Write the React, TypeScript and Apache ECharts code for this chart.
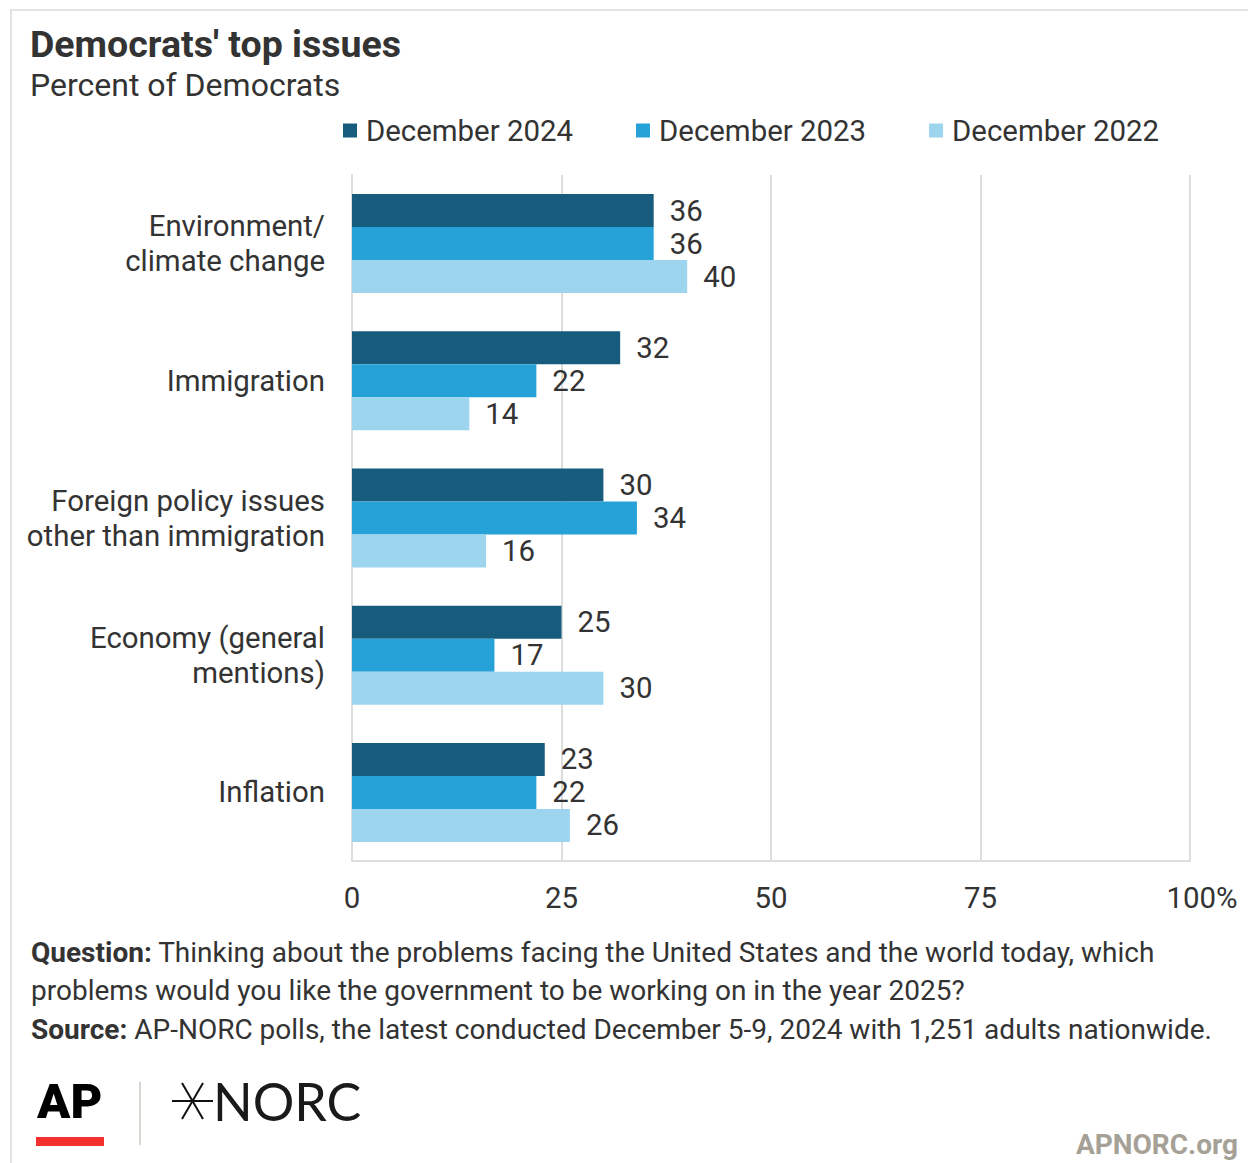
import React, { useEffect, useRef } from "react";
import * as echarts from "echarts";

const categories = [
  "Environment/\nclimate change",
  "Immigration",
  "Foreign policy issues\nother than immigration",
  "Economy (general\nmentions)",
  "Inflation",
];
const seriesNames = ["December 2024", "December 2023", "December 2022"];
const dec2024 = [36, 32, 30, 25, 23];
const dec2023 = [36, 22, 34, 17, 22];
const dec2022 = [40, 14, 16, 30, 26];
const xTicks = [0, 25, 50, 75, 100];
const colors = ["#175c7c", "#27a2d9", "#9dd5ef"];

const FONT = "Roboto, 'Noto Sans', sans-serif";
const TXT = "#333333";
const FS = 29.4;

export default function App() {
  const ref = useRef<HTMLDivElement>(null);
  useEffect(() => {
    document.body.style.margin = "0";
    const chart = echarts.init(ref.current!, null, { renderer: "svg" });
    const values = [dec2024, dec2023, dec2022];
    const option: any = {
      animation: false,
      backgroundColor: "#ffffff",
      textStyle: { fontFamily: FONT },
      title: {
        text: "Democrats' top issues",
        subtext: "Percent of Democrats",
        left: 25,
        top: 20,
        itemGap: 6,
        textStyle: { fontFamily: FONT, fontSize: 37.5, fontWeight: "bold", color: TXT },
        subtextStyle: { fontFamily: FONT, fontSize: 32, color: TXT },
      },
      legend: {
        data: seriesNames,
        left: 338,
        top: 111,
        icon: "rect",
        itemWidth: 14,
        itemHeight: 14,
        itemGap: 63,
        textStyle: { fontFamily: FONT, fontSize: FS, color: TXT, padding: [0, 0, 0, 4] },
      },
      grid: { left: 352, right: 58, top: 175, bottom: 302, containLabel: false },
      xAxis: {
        type: "value",
        min: 0,
        max: 100,
        interval: 25,
        axisLine: { show: true, lineStyle: { color: "#dddddd", width: 2 } },
        axisTick: { show: false },
        splitLine: { show: true, lineStyle: { color: "#dddddd", width: 2 } },
        axisLabel: {
          margin: 22,
          fontFamily: FONT,
          fontSize: FS,
          color: TXT,
          formatter: (v: number) => (v === xTicks[xTicks.length - 1] ? "{p|" + v + "%}" : String(v)),
          rich: { p: { fontFamily: FONT, fontSize: FS, color: TXT, padding: [0, 0, 0, 24] } },
        },
      },
      yAxis: {
        type: "category",
        data: categories,
        inverse: true,
        axisLine: { show: true, lineStyle: { color: "#dddddd", width: 2 } },
        axisTick: { show: false },
        splitLine: { show: false },
        axisLabel: { margin: 27, fontFamily: FONT, fontSize: FS, color: TXT, lineHeight: 35, align: "right" },
      },
      series: seriesNames.map((name, i) => ({
        name,
        type: "bar",
        data: values[i],
        barWidth: 33,
        barGap: "0%",
        itemStyle: { color: colors[i] },
        label: {
          show: true,
          position: "right",
          distance: 16,
          fontFamily: FONT,
          fontSize: FS,
          color: TXT,
        },
      })),
      graphic: [
        {
          type: "rect",
          shape: { x: 11, y: 10, width: 1300, height: 1300 },
          style: { fill: "none", stroke: "#e2e2e2", lineWidth: 2 },
          silent: true,
        },
        {
          type: "text",
          x: 31,
          y: 933,
          style: {
            text: "{b|Question:} Thinking about the problems facing the United States and the world today, which\nproblems would you like the government to be working on in the year 2025?\n{b|Source:} AP-NORC polls, the latest conducted December 5-9, 2024 with 1,251 adults nationwide.",
            fontFamily: FONT,
            fontSize: 28,
            lineHeight: 38.5,
            fill: TXT,
            verticalAlign: "top",
            rich: { b: { fontFamily: FONT, fontSize: 28, fontWeight: "bold", fill: TXT, lineHeight: 38.5 } },
          },
        },
        {
          type: "text",
          x: 37,
          y: 1101,
          style: {
            text: "AP",
            fontFamily: "Roboto, 'Liberation Sans', sans-serif",
            fontWeight: 900,
            fontSize: 49,
            fill: "#000000",
            verticalAlign: "middle",
          },
        },
        { type: "rect", shape: { x: 36, y: 1137, width: 68, height: 9 }, style: { fill: "#f4312f" } },
        { type: "line", shape: { x1: 140, y1: 1082, x2: 140, y2: 1145 }, style: { stroke: "#d8d6d0", lineWidth: 2 } },
        { type: "line", shape: { x1: 172, y1: 1101, x2: 213, y2: 1101 }, style: { stroke: "#111", lineWidth: 2 } },
        { type: "line", shape: { x1: 182, y1: 1083, x2: 203, y2: 1119 }, style: { stroke: "#111", lineWidth: 2 } },
        { type: "line", shape: { x1: 203, y1: 1083, x2: 182, y2: 1119 }, style: { stroke: "#111", lineWidth: 2 } },
        {
          type: "text",
          x: 213,
          y: 1101,
          style: {
            text: "NORC",
            fontFamily: "Lato, 'Noto Sans', sans-serif",
            fontWeight: "normal",
            fontSize: 52,
            fill: "#1a1a1a",
            verticalAlign: "middle",
          },
        },
        {
          type: "text",
          x: 1238,
          y: 1144,
          style: {
            text: "APNORC.org",
            fontFamily: FONT,
            fontWeight: "bold",
            fontSize: 28,
            fill: "#a6a197",
            align: "right",
            verticalAlign: "middle",
          },
        },
      ],
    };
    chart.setOption(option);
    return () => chart.dispose();
  }, []);
  return <div ref={ref} style={{ position: "absolute", left: 0, top: 0, width: 1248, height: 1163 }} />;
}
